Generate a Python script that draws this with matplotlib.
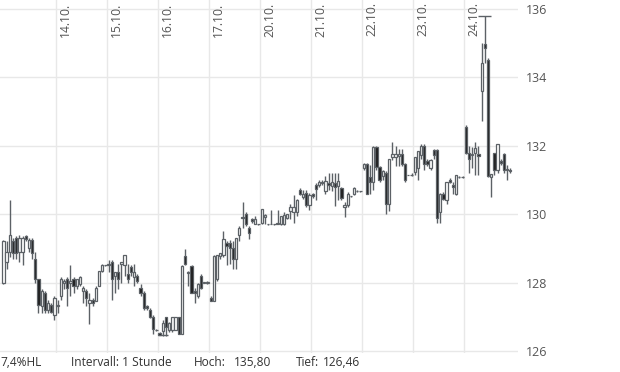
import matplotlib
matplotlib.use('Agg')
import matplotlib.pyplot as plt
import matplotlib.transforms as mtransforms

# hourly OHLC, one line per trading day (13.10. has 17 candles, the rest 16, 24.10. 15)
opens = [
    128.0, 128.6, 128.9, 129.2, 129.3, 128.9, 128.9, 129.35, 129.0, 129.25, 128.7, 128.1, 127.3, 127.7, 127.2, 127.35, 127.05,
    127.3, 127.6, 128.0, 128.1, 128.0, 128.1, 127.9, 127.97, 127.75, 127.75, 127.4, 127.5, 127.45, 127.9, 128.35, 128.5,
    128.5, 128.6, 128.2, 128.3, 128.55, 128.5, 128.25, 128.45, 128.15, 128.2, 127.85, 127.7, 127.3, 127.2, 127.0, 126.62,
    126.52, 126.57, 126.98, 126.6, 126.6, 126.6, 126.98, 126.5, 128.77, 128.28, 128.47, 127.74, 127.6, 128.2, 128.0, 128.0,
    127.55, 127.47, 128.1, 128.77, 128.8, 129.15, 129.15, 129.0, 128.7, 129.4, 129.92, 130.0, 129.6, 129.85, 129.7, 129.7,
    129.75, 129.93, 129.7, 129.7, 129.7, 129.7, 129.7, 129.7, 129.9, 130.1, 130.05, 130.05, 130.7, 130.5, 130.62, 130.28,
    130.58, 130.85, 130.85, 130.95, 130.67, 130.9, 130.82, 130.9, 130.82, 130.76, 130.2, 130.26, 130.52, 130.58, 130.67, 130.67,
    131.35, 131.46, 131.08, 130.95, 131.96, 131.37, 131.1, 131.2, 130.3, 131.67, 131.67, 131.7, 131.76, 131.48, 131.14, 131.14,
    131.23, 131.35, 131.72, 132.0, 131.55, 131.35, 131.88, 131.88, 130.05, 130.6, 130.4, 131.0, 130.85, 130.6, 131.08, 131.08,
    132.55, 131.78, 131.72, 131.78, 131.75, 133.6, 134.97, 134.5, 131.08, 131.78, 131.3, 131.55, 131.75, 131.32, 131.28,
]
highs = [
    129.25, 129.2, 130.4, 129.3, 129.35, 129.4, 129.35, 129.4, 129.3, 129.3, 128.9, 128.1, 127.8, 127.75, 127.5, 127.4, 127.6,
    127.5, 128.15, 128.1, 128.15, 128.5, 128.15, 128.1, 128.18, 127.9, 127.8, 127.7, 127.55, 127.9, 128.35, 128.55, 128.52,
    128.65, 128.65, 128.3, 128.55, 128.6, 128.8, 128.55, 128.5, 128.55, 128.25, 127.95, 127.75, 127.35, 127.25, 127.05, 126.65,
    126.55, 126.9, 127.0, 126.85, 127.0, 127.0, 127.0, 128.5, 128.97, 128.35, 128.5, 127.85, 128.0, 128.25, 128.0, 128.05,
    127.6, 128.8, 128.8, 128.85, 129.5, 129.2, 129.25, 129.2, 129.3, 129.65, 130.35, 130.05, 129.65, 129.9, 129.95, 129.72,
    130.15, 130.0, 129.72, 130.13, 129.72, 130.13, 129.95, 130.05, 130.0, 130.3, 130.55, 130.45, 130.75, 130.7, 130.7, 130.62,
    130.62, 130.9, 131.0, 131.0, 131.1, 131.2, 131.2, 131.2, 131.2, 130.8, 130.35, 130.65, 130.54, 130.8, 130.7, 130.69,
    131.5, 131.5, 131.45, 132.0, 132.0, 131.4, 131.3, 131.25, 131.6, 132.1, 131.98, 131.9, 131.9, 131.5, 131.15, 131.2,
    131.67, 131.85, 132.05, 132.05, 131.6, 131.6, 131.9, 131.9, 130.62, 130.65, 130.95, 131.05, 130.95, 131.15, 131.1, 131.1,
    132.6, 131.98, 131.95, 132.1, 132.0, 135.0, 135.8, 134.55, 131.17, 131.8, 132.05, 131.6, 131.8, 131.45, 131.35,
]
lows = [
    127.95, 128.4, 128.75, 128.7, 128.7, 128.6, 128.5, 129.2, 128.9, 128.7, 128.0, 127.1, 127.1, 127.1, 127.1, 127.1, 126.9,
    127.1, 127.5, 127.8, 127.3, 127.6, 127.7, 127.8, 127.9, 127.4, 127.3, 126.8, 127.3, 127.45, 127.9, 128.3, 128.48,
    128.3, 127.5, 127.7, 127.8, 128.0, 128.2, 128.0, 128.2, 127.9, 128.0, 127.6, 127.2, 127.2, 126.95, 126.5, 126.58,
    126.46, 126.45, 126.45, 126.55, 126.55, 126.6, 126.5, 126.5, 128.5, 127.9, 127.7, 127.4, 127.55, 127.8, 128.0, 127.95,
    127.45, 127.45, 128.05, 128.7, 128.75, 128.5, 128.55, 128.4, 128.4, 129.2, 129.6, 129.65, 129.27, 129.75, 129.7, 129.68,
    129.7, 129.7, 129.68, 129.7, 129.68, 129.7, 129.68, 129.68, 129.85, 129.85, 129.75, 129.95, 130.55, 130.45, 130.2, 130.12,
    130.48, 130.4, 130.8, 130.85, 130.6, 130.7, 130.68, 130.23, 130.4, 130.4, 129.93, 130.2, 130.5, 130.55, 130.65, 130.65,
    131.3, 130.6, 130.6, 130.7, 131.3, 130.95, 131.0, 130.0, 130.1, 131.58, 131.4, 131.4, 131.4, 130.95, 131.13, 131.1,
    131.15, 131.0, 131.6, 131.3, 131.4, 131.3, 131.6, 129.73, 129.75, 130.4, 130.3, 130.9, 130.6, 130.55, 131.06, 131.06,
    131.75, 131.2, 131.35, 131.15, 131.15, 132.72, 134.42, 131.08, 130.5, 131.15, 131.2, 131.45, 131.2, 131.0, 131.2,
]
closes = [
    129.2, 128.9, 129.4, 128.85, 128.85, 129.3, 129.3, 129.28, 129.25, 128.85, 128.1, 127.35, 127.75, 127.2, 127.4, 127.15, 127.55,
    127.35, 128.1, 128.05, 127.85, 128.05, 127.9, 128.1, 128.15, 127.85, 127.55, 127.5, 127.4, 127.85, 128.35, 128.5, 128.5,
    128.55, 128.1, 128.3, 128.1, 128.6, 128.8, 128.1, 128.3, 128.3, 128.05, 127.7, 127.25, 127.25, 127.0, 126.65, 126.6,
    126.47, 126.83, 126.7, 126.82, 126.98, 126.98, 126.5, 128.47, 128.53, 128.32, 127.7, 127.68, 127.97, 127.83, 128.0, 128.0,
    127.47, 128.77, 128.8, 128.85, 129.27, 129.07, 129.0, 128.7, 129.3, 129.6, 129.88, 129.7, 129.45, 129.8, 129.85, 129.7,
    130.15, 129.98, 129.7, 129.72, 129.7, 129.75, 129.95, 129.98, 130.0, 130.2, 130.2, 130.4, 130.6, 130.6, 130.28, 130.55,
    130.52, 130.73, 130.95, 130.92, 130.97, 130.85, 130.95, 130.8, 130.97, 130.47, 130.26, 130.6, 130.52, 130.76, 130.67, 130.67,
    131.46, 130.6, 130.93, 131.96, 131.37, 131.0, 131.25, 130.3, 131.6, 131.75, 131.75, 131.76, 131.46, 131.0, 131.14, 131.15,
    131.67, 131.85, 132.0, 131.48, 131.46, 131.58, 131.72, 129.88, 130.6, 130.45, 130.93, 130.94, 130.8, 131.14, 131.08, 131.08,
    131.78, 131.6, 131.75, 131.93, 131.7, 134.42, 134.85, 131.1, 131.17, 131.3, 132.05, 131.5, 131.3, 131.28, 131.25,
]

day_labels = ['14.10.', '15.10.', '16.10.', '17.10.', '20.10.', '21.10.', '22.10.', '23.10.', '24.10.']
day_starts = [17, 33, 49, 65, 81, 97, 113, 129, 145]
y_ticks = [126, 128, 130, 132, 134, 136]
hoch = 135.80
tief = 126.46

edge = '#5c6166'
dark = '#1c1c1c'

fig = plt.figure(figsize=(6.2, 3.72), dpi=100)
ax = fig.add_axes([0, 19 / 372, 518 / 620, 353 / 372])

x = list(range(len(opens)))
ax.vlines(x, lows, highs, color=edge, lw=1.0, zorder=2)
bottoms = [min(o, c) for o, c in zip(opens, closes)]
heights = [max(abs(c - o), 0.015) for o, c in zip(opens, closes)]
fills = ['white' if c >= o else dark for o, c in zip(opens, closes)]
ax.bar(x, heights, bottom=bottoms, width=0.72, color=fills, edgecolor=edge, linewidth=0.9, zorder=3)

# high / low markers
i_hi = highs.index(max(highs))
i_lo = lows.index(min(lows))
ax.hlines(hoch, i_hi - 2, i_hi + 2, color=edge, lw=1.0, zorder=2)
ax.hlines(tief, i_lo - 1.5, i_lo + 1.5, color=edge, lw=1.0, zorder=2)

ax.set_xlim(-1.07, 161.4)
ax.set_ylim(125.94, 136.26)

for s in ax.spines.values():
    s.set_visible(False)

ax.set_xticks([d - 0.5 for d in day_starts])
ax.set_xticklabels([])
ax.tick_params(axis='x', length=0)
ax.grid(axis='x', color='#e8e8e8', lw=1.0, zorder=0)

ax.yaxis.tick_right()
ax.set_yticks(y_ticks)
ax.set_yticklabels([str(t) for t in y_ticks], fontsize=9, color='#555555', family='Open Sans')
ax.tick_params(axis='y', length=0, pad=6)
ax.grid(axis='y', color='#e8e8e8', lw=1.0, zorder=0)
ax.set_axisbelow(True)

trans = mtransforms.blended_transform_factory(ax.transData, ax.transAxes)
for d, lab in zip(day_starts, day_labels):
    ax.text(d - 0.5 + 3.1, 0.993, lab, transform=trans, rotation=90, ha='center', va='top',
            fontsize=8.7, color='#555555', family='Open Sans')

info_y = 9.5 / 372
fs = 8.6
fig.text(0.0, info_y, '7,4%HL', fontsize=fs, color='#333333', va='center', family='Open Sans')
fig.text(71 / 620, info_y, 'Intervall: 1 Stunde', fontsize=fs, color='#333333', va='center', family='Open Sans')
fig.text(194 / 620, info_y, 'Hoch:', fontsize=fs, color='#333333', va='center', family='Open Sans')
fig.text(234 / 620, info_y, f'{hoch:.2f}'.replace('.', ','), fontsize=fs, color='#333333', va='center', family='Open Sans')
fig.text(296 / 620, info_y, 'Tief:', fontsize=fs, color='#333333', va='center', family='Open Sans')
fig.text(323 / 620, info_y, f'{tief:.2f}'.replace('.', ','), fontsize=fs, color='#333333', va='center', family='Open Sans')

plt.savefig('out.png', dpi=100)
plt.close()
